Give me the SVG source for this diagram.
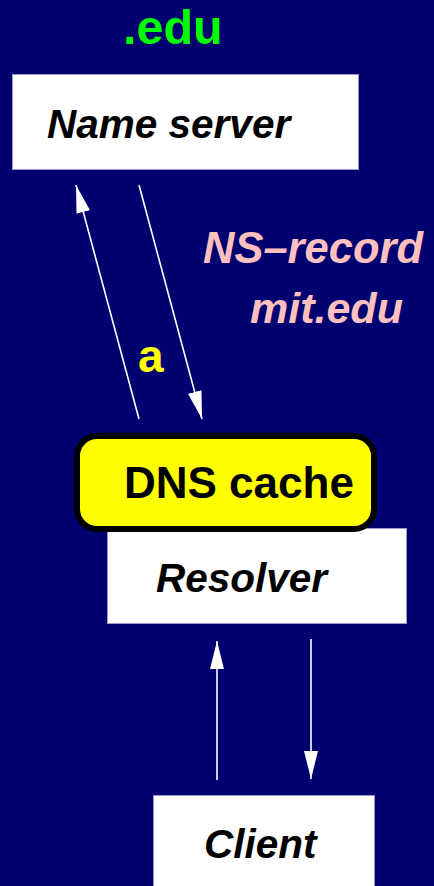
<svg xmlns="http://www.w3.org/2000/svg" width="434" height="886" viewBox="0 0 434 886">
  <style>
    .box { fill: #ffffff; stroke: #9a9ad0; stroke-width: 1; }
    .label { font-family: "Liberation Sans", Arial, sans-serif; font-weight: bold; }
    .node { font-style: italic; font-size: 40.5px; fill: #000000; }
    .conn { stroke: #ffffff; stroke-width: 1.6; fill: none; marker-end: url(#head); }
  </style>
  <defs>
    <marker id="head" markerUnits="userSpaceOnUse" markerWidth="28" markerHeight="14" refX="28" refY="7" orient="auto">
      <path d="M0,0 L28,7 L0,14 Z" fill="#ffffff"/>
    </marker>
  </defs>

  <rect width="434" height="886" fill="#000070"/>

  <!-- zone label -->
  <text class="label" x="123" y="44" font-size="48.5" fill="#00ff00">.edu</text>

  <g id="name-server">
    <rect class="box" x="12.5" y="74.5" width="346" height="95"/>
    <text class="label node" x="47" y="138">Name server</text>
  </g>

  <g id="resolver">
    <rect class="box" x="107.5" y="528.5" width="299" height="95"/>
    <text class="label node" x="156" y="592">Resolver</text>
  </g>

  <g id="dns-cache">
    <rect x="77" y="436" width="297" height="93" rx="20" ry="20" fill="#ffff00" stroke="#000000" stroke-width="6"/>
    <text class="label" x="124" y="498" font-size="44" fill="#000000">DNS cache</text>
  </g>

  <g id="client">
    <rect class="box" x="153.5" y="795.5" width="221" height="100"/>
    <text class="label node" x="204" y="858">Client</text>
  </g>

  <g id="connectors">
    <line class="conn" x1="139" y1="419" x2="76" y2="185"/>
    <line class="conn" x1="139" y1="185" x2="202" y2="419"/>
    <line class="conn" x1="217" y1="780" x2="217" y2="641"/>
    <line class="conn" x1="311" y1="639" x2="311" y2="779"/>
  </g>

  <!-- connector labels -->
  <text class="label" x="138" y="372" font-size="46" fill="#ffff00">a</text>
  <text class="label" x="203" y="263" font-size="43.5" font-style="italic" fill="#ffc0c0">NS–record</text>
  <text class="label" x="250" y="323" font-size="43" font-style="italic" fill="#ffc0c0">mit.edu</text>
</svg>
